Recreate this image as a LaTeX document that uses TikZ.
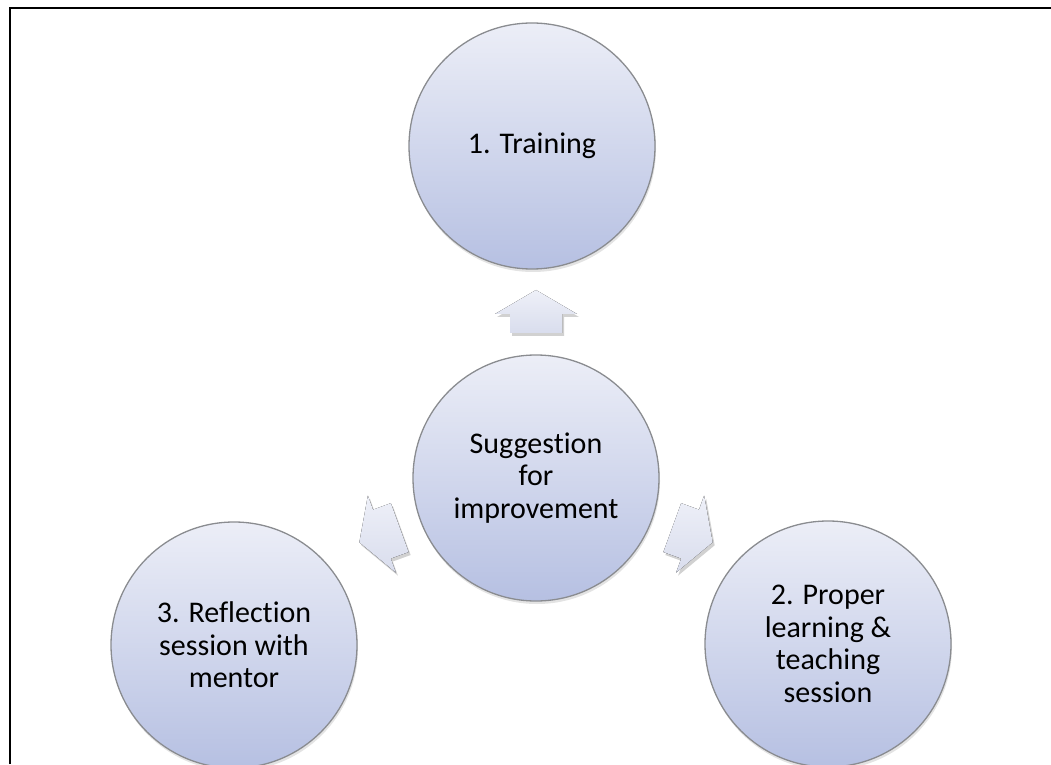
\documentclass[tikz,border=0pt]{standalone}
\usepackage{fontspec}
\setmainfont[Ligatures=NoCommon]{Carlito}
\usetikzlibrary{shadows}

\definecolor{bubbletop}{HTML}{ECEEF7}
\definecolor{bubblebot}{HTML}{B6C0E2}
\definecolor{bubbleline}{HTML}{8A8C90}
\definecolor{arrowtop}{HTML}{EEF0F8}
\definecolor{arrowbot}{HTML}{D9DDED}

\begin{document}
\begin{tikzpicture}[
    x=1pt, y=1pt,
    bubble/.style={circle, minimum size=246pt, inner sep=0pt, align=center,
        top color=bubbletop, bottom color=bubblebot, draw=bubbleline, line width=1.3pt,
        drop shadow={shadow xshift=1pt, shadow yshift=-3pt, opacity=0.22},
        font=\fontsize{30}{32.5}\selectfont},
    blockarrow/.style={top color=arrowtop, bottom color=arrowbot},
    arrowshade/.style={fill=black!40, opacity=0.45},
    frame/.style={line width=2pt}
]
\clip (0,0) rectangle (1051,764);

\coordinate (hubpos) at (536,286);

% pfeile nach aussen
\foreach \ang in {90,200,340}{
  \begin{scope}[shift={(hubpos)}, xshift=2pt, yshift=-3pt, rotate=\ang-90]
    \fill[arrowshade] (0,188) -- (41,164) -- (26,164) -- (26,145) -- (-26,145) -- (-26,164) -- (-41,164) -- cycle;
  \end{scope}
  \begin{scope}[shift={(hubpos)}, rotate=\ang-90]
    \fill[blockarrow] (0,188) -- (41,164) -- (26,164) -- (26,145) -- (-26,145) -- (-26,164) -- (-41,164) -- cycle;
  \end{scope}
}

% kreise
\node[bubble] (hub) at (hubpos) {Suggestion\\for\\improvement};
\node[bubble] (training) at (532,618) {1. Training};
\node[bubble] (reflect) at (234,119) {3. Reflection\\session with\\mentor};
\node[bubble] (learning) at (828,120) {2. Proper\\learning \&\\teaching\\session};

% rahmen
\draw[frame] (10,0) -- (10,756) -- (1051,756);

\end{tikzpicture}
\end{document}
